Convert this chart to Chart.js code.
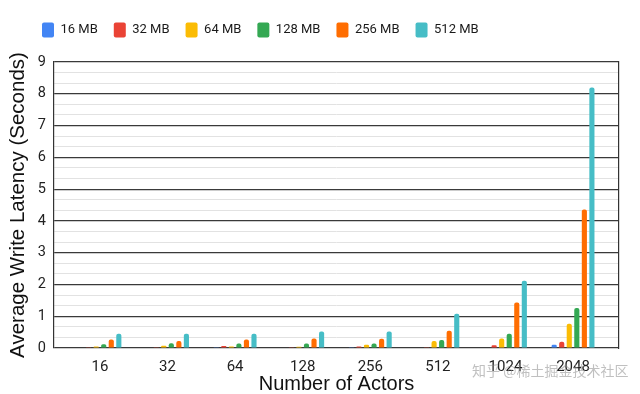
<!DOCTYPE html>
<html>
<head>
<meta charset="utf-8">
<script src="https://cdn.jsdelivr.net/npm/chart.js@4.4.1/dist/chart.umd.min.js"></script>
<style>
  html, body { margin: 0; padding: 0; background: #fff; }
  #wrap { position: relative; width: 640px; height: 394px; }
  #wm { position: absolute; left: 472px; top: 360px; font: 14px "Noto Sans CJK SC", sans-serif; color: rgba(140,140,140,0.55); white-space: nowrap; pointer-events: none; }
</style>
</head>
<body>
<div id="wrap">
  <canvas id="c" width="640" height="394"></canvas>
  <div id="wm">知乎 @稀土掘金技术社区</div>
</div>
<script>
const categories = ['16', '32', '64', '128', '256', '512', '1024', '2048'];
const seriesNames = ['16 MB', '32 MB', '64 MB', '128 MB', '256 MB', '512 MB'];
const mb16  = [0, 0, 0.01, 0, 0.01, 0, 0, 0.10];
const mb32  = [0.01, 0.01, 0.06, 0.01, 0.05, 0.01, 0.09, 0.20];
const mb64  = [0.05, 0.07, 0.05, 0.04, 0.10, 0.22, 0.30, 0.76];
const mb128 = [0.12, 0.15, 0.14, 0.14, 0.14, 0.25, 0.45, 1.26];
const mb256 = [0.27, 0.22, 0.27, 0.30, 0.29, 0.54, 1.43, 4.36];
const mb512 = [0.45, 0.45, 0.45, 0.52, 0.52, 1.08, 2.12, 8.20];
const yMajorTicks = [0, 1, 2, 3, 4, 5, 6, 7, 8, 9];
const seriesValues = [mb16, mb32, mb64, mb128, mb256, mb512];
const colors = ['#4285F4', '#EA4335', '#FBBC04', '#34A853', '#FF6D01', '#46BDC6'];

const isMajor = v => Math.abs(v - Math.round(v)) < 1e-6;
const yAllTicks = [];
yMajorTicks.forEach((t, i) => {
  yAllTicks.push(t);
  if (i < yMajorTicks.length - 1) { yAllTicks.push(t + 1/3); yAllTicks.push(t + 2/3); }
});

const datasets = seriesValues.map((arr, k) => ({
  label: seriesNames[k],
  data: arr.map((v, i) => ({ x: i, y: v })),
  backgroundColor: colors[k],
  borderWidth: 0,
  borderRadius: 2,
  categoryPercentage: 0.67,
  barPercentage: 0.68
}));

const layoutTweak = {
  id: 'layoutTweak',
  beforeLayout(chart) {
    const lg = chart.legend;
    if (lg && !lg._patched) {
      const f = lg.fit;
      lg.fit = function () { f.call(this); this.height = 62; };
      lg._patched = true;
    }
  },
  afterLayout(chart) {
    const lg = chart.legend;
    if (lg) { lg.left = 26; lg.top = 6.5; }
  }
};

new Chart(document.getElementById('c'), {
  type: 'bar',
  data: { datasets },
  plugins: [layoutTweak],
  options: {
    responsive: false,
    animation: false,
    layout: { padding: 0 },
    plugins: {
      tooltip: { enabled: false },
      legend: {
        position: 'top',
        align: 'start',
        labels: {
          boxWidth: 12, boxHeight: 15, padding: 16,
          useBorderRadius: true, borderRadius: 2,
          font: { family: 'Roboto', size: 13 }, color: '#1a1a1a'
        }
      }
    },
    scales: {
      x: {
        type: 'linear', min: -0.68, max: 7.68, offset: false,
        afterBuildTicks: s => { s.ticks = categories.map((_, i) => ({ value: i })); },
        grid: { display: false, drawTicks: false },
        border: { display: false },
        ticks: {
          autoSkip: false, maxRotation: 0, padding: 10,
          font: { family: 'Roboto', size: 15 }, color: '#222',
          callback: v => categories[v] ?? ''
        },
        title: {
          display: true, text: 'Number of Actors', color: '#111',
          font: { family: 'Liberation Sans', size: 20, lineHeight: 1 }, padding: 0
        },
        afterFit: s => { s.height = 46; }
      },
      y: {
        min: 0, max: 9,
        afterBuildTicks: s => { s.ticks = yAllTicks.map(v => ({ value: v })); },
        ticks: {
          autoSkip: false, padding: 8,
          font: { family: 'Roboto', size: 14.5 }, color: '#222',
          callback: v => isMajor(v) ? String(Math.round(v)) : ''
        },
        grid: {
          drawTicks: false,
          color: ctx => isMajor(ctx.tick.value) ? '#3a3a3a' : '#e2e2e2',
          lineWidth: ctx => isMajor(ctx.tick.value) ? 1.2 : 1
        },
        border: { color: '#333', width: 1.2 },
        title: {
          display: true, text: 'Average Write Latency (Seconds)', color: '#111',
          font: { family: 'Liberation Sans', size: 20.5, lineHeight: 1 }, padding: { top: 8, bottom: 0 }
        },
        afterFit: s => { s.width = 54; }
      },
      y2: {
        position: 'right', min: 0, max: 9,
        grid: { display: false, drawTicks: false },
        ticks: { display: false },
        border: { display: true, color: '#333', width: 1.2 },
        afterFit: s => { s.width = 21; }
      }
    }
  }
});
</script>
</body>
</html>
